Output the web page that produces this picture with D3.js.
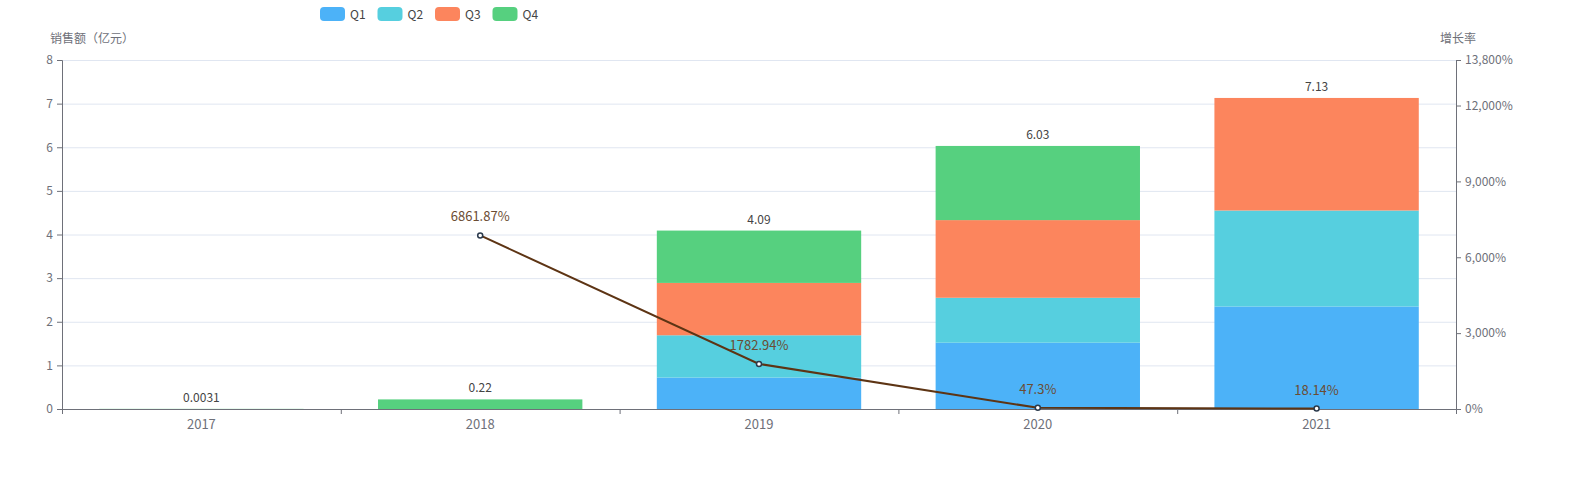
<!DOCTYPE html>
<html>
<head>
<meta charset="utf-8">
<script src="https://cdn.jsdelivr.net/npm/d3@7"></script>
<style>
  html, body { margin: 0; padding: 0; background: #fff; overflow: hidden; }
  #chart svg { display: block; }
  text { font-family: "Noto Sans CJK SC", "Noto Sans", sans-serif; }
</style>
</head>
<body>
<div id="chart"></div>
<script>
var years = ['2017', '2018', '2019', '2020', '2021'];
var seriesNames = ['Q1', 'Q2', 'Q3', 'Q4'];
var q1 = [0, 0, 0.72, 1.52, 2.35];
var q2 = [0, 0, 0.97, 1.03, 2.20];
var q3 = [0, 0, 1.20, 1.78, 2.58];
var q4 = [0.0031, 0.22, 1.20, 1.70, 0];
var totals = ['0.0031', '0.22', '4.09', '6.03', '7.13'];
var growth = [null, 6861.87, 1782.94, 47.3, 18.14];
var leftTicks = [0, 1, 2, 3, 4, 5, 6, 7, 8];
var rightTicks = [0, 3000, 6000, 9000, 12000, 13800];

var colors = ['#4cb2f8', '#56cfdf', '#fc855d', '#56d07f'];

function drawChart() {
    var width = 1576, height = 500;
    var margin = {left: 62, right: 120, top: 60, bottom: 91};

    var svg = d3.select('#chart').append('svg')
        .attr('width', width)
        .attr('height', height);

    var x = d3.scaleBand()
        .domain(years)
        .range([margin.left, width - margin.right])
        .paddingInner(0.267)
        .paddingOuter(0.1335);
    var xOuter = d3.scaleBand()
        .domain(years)
        .range([margin.left, width - margin.right]);

    var y = d3.scaleLinear().domain([0, 8]).range([height - margin.bottom, margin.top]);
    var y2 = d3.scaleLinear().domain([0, 13800]).range([height - margin.bottom, margin.top]);

    // grid
    svg.append('g')
      .selectAll('line')
      .data(leftTicks.filter(d => d > 0))
      .enter().append('line')
        .attr('x1', margin.left).attr('x2', width - margin.right)
        .attr('y1', d => y(d) + 0.5).attr('y2', d => y(d) + 0.5)
        .attr('stroke', '#e0e6f1');

    // stacked bars
    var rows = years.map((yr, i) => ({year: yr, Q1: q1[i], Q2: q2[i], Q3: q3[i], Q4: q4[i]}));
    var stack = d3.stack().keys(seriesNames)(rows);

    svg.append('g')
      .selectAll('g')
      .data(stack)
      .enter().append('g')
        .attr('fill', (d, i) => colors[i])
      .selectAll('rect')
      .data(d => d)
      .enter().append('rect')
        .attr('x', d => x(d.data.year))
        .attr('width', x.bandwidth())
        .attr('y', d => y(d[1]))
        .attr('height', d => Math.max(0, y(d[0]) - y(d[1])));

    // total labels
    svg.append('g')
      .selectAll('text')
      .data(years)
      .enter().append('text')
        .attr('x', d => x(d) + x.bandwidth() / 2)
        .attr('y', (d, i) => y(+totals[i]) - 7)
        .attr('text-anchor', 'middle')
        .attr('font-size', 12)
        .attr('fill', '#444')
        .text((d, i) => totals[i]);

    // axes
    var axisColor = '#6e7079';
    var xAxis = svg.append('g')
        .attr('transform', `translate(0,${height - margin.bottom})`);
    xAxis.append('line')
        .attr('x1', margin.left).attr('x2', width - margin.right)
        .attr('y1', 0.5).attr('y2', 0.5)
        .attr('stroke', axisColor);
    xAxis.selectAll('.tk')
      .data(years.concat(['end']))
      .enter().append('line')
        .attr('x1', (d, i) => margin.left + i * xOuter.bandwidth() + 0.5)
        .attr('x2', (d, i) => margin.left + i * xOuter.bandwidth() + 0.5)
        .attr('y1', 0).attr('y2', 5)
        .attr('stroke', axisColor);
    xAxis.selectAll('text')
      .data(years)
      .enter().append('text')
        .attr('x', d => xOuter(d) + xOuter.bandwidth() / 2)
        .attr('y', 20)
        .attr('text-anchor', 'middle')
        .attr('font-size', 13)
        .attr('fill', axisColor)
        .text(d => d);

    var yAxisL = svg.append('g')
        .attr('transform', `translate(${margin.left},0)`)
        .call(d3.axisLeft(y).tickValues(leftTicks).tickSize(5).tickPadding(4));
    var yAxisR = svg.append('g')
        .attr('transform', `translate(${width - margin.right},0)`)
        .call(d3.axisRight(y2).tickValues(rightTicks).tickSize(5).tickPadding(4)
            .tickFormat(d => d3.format(',')(d) + '%'));
    [yAxisL, yAxisR].forEach(a => {
        a.select('.domain').attr('stroke', axisColor);
        a.selectAll('.tick line').attr('stroke', axisColor);
        a.selectAll('.tick text').attr('fill', axisColor).attr('font-size', 12)
            .attr('font-family', '"Noto Sans CJK SC", sans-serif');
    });

    // axis names
    svg.append('text')
        .attr('x', 50).attr('y', 43)
        .attr('font-size', 12).attr('fill', axisColor)
        .text('销售额（亿元）');
    svg.append('text')
        .attr('x', 1458).attr('y', 43)
        .attr('text-anchor', 'middle')
        .attr('font-size', 12).attr('fill', axisColor)
        .text('增长率');

    // growth line
    var pts = years.map((yr, i) => ({year: yr, v: growth[i]})).filter(d => d.v != null);
    var cx = d => xOuter(d.year) + xOuter.bandwidth() / 2;
    svg.append('path')
        .datum(pts)
        .attr('fill', 'none')
        .attr('stroke', '#5d3414')
        .attr('stroke-width', 2)
        .attr('d', d3.line().x(cx).y(d => y2(d.v)));
    svg.append('g')
      .selectAll('circle')
      .data(pts)
      .enter().append('circle')
        .attr('cx', cx)
        .attr('cy', d => y2(d.v))
        .attr('r', 2.5)
        .attr('fill', '#fff')
        .attr('stroke', '#2b3a4c')
        .attr('stroke-width', 1.5);
    svg.append('g')
      .selectAll('text')
      .data(pts)
      .enter().append('text')
        .attr('x', cx)
        .attr('y', d => y2(d.v) - 14)
        .attr('text-anchor', 'middle')
        .attr('font-size', 13)
        .attr('fill', '#6b4c33')
        .text(d => d.v + '%');

    // legend
    var legend = svg.append('g')
      .selectAll('g')
      .data(seriesNames)
      .enter().append('g')
        .attr('transform', (d, i) => `translate(${320 + i * 57.5},7)`);
    legend.append('rect')
        .attr('width', 25).attr('height', 14).attr('rx', 4)
        .attr('fill', (d, i) => colors[i]);
    legend.append('text')
        .attr('x', 30).attr('y', 11.5)
        .attr('font-size', 12).attr('fill', '#444')
        .text(d => d);
}

drawChart();
</script>
</body>
</html>
